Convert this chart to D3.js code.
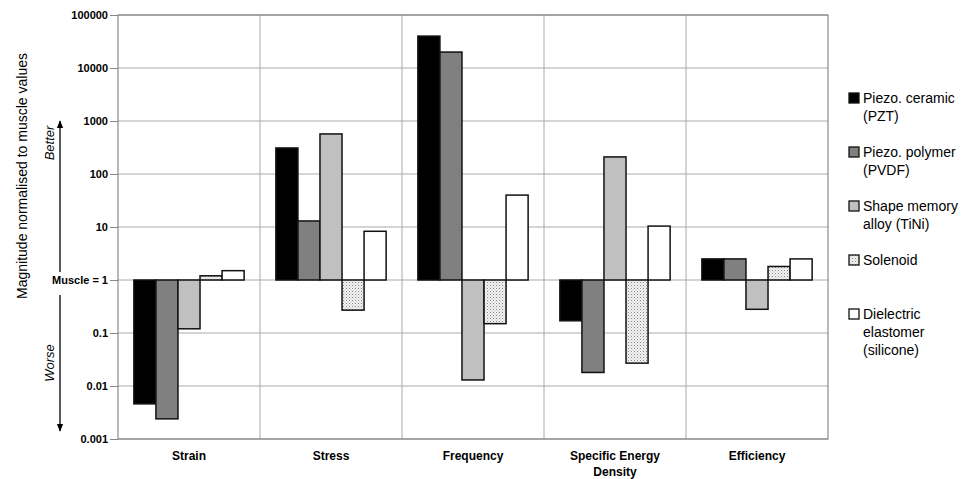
<!DOCTYPE html>
<html>
<head>
<meta charset="utf-8">
<script src="https://cdn.jsdelivr.net/npm/d3@7"></script>
<style>
  body { margin: 0; background: #fff; }
  svg { font-family: "Liberation Sans", Arial, sans-serif; }
  .axis path, .axis line { stroke: #888; }
  .grid line { stroke: #aaa; stroke-width: 1; }
</style>
</head>
<body>
<svg width="966" height="479"></svg>
<script>
var categories = ["Strain", "Stress", "Frequency", "Specific Energy|Density", "Efficiency"];
var seriesNames = ["Piezo. ceramic|(PZT)", "Piezo. polymer|(PVDF)", "Shape memory|alloy (TiNi)", "Solenoid", "Dielectric|elastomer|(silicone)"];
var pzt      = [0.0046, 310,   40000, 0.17,  2.5];
var pvdf     = [0.0024, 13,    20000, 0.018, 2.5];
var tini     = [0.12,   570,   0.013, 210,   0.28];
var solenoid = [1.2,    0.27,  0.15,  0.027, 1.8];
var silicone = [1.5,    8.3,   40,    10.4,  2.5];
var yTicks = [0.001, 0.01, 0.1, 1, 10, 100, 1000, 10000, 100000];
var yTickLabels = ["0.001", "0.01", "0.1", "Muscle = 1", "10", "100", "1000", "10000", "100000"];

var fills = ["#000000", "#808080", "#c0c0c0", "url(#dots)", "#ffffff"];
var allSeries = [pzt, pvdf, tini, solenoid, silicone];

var svg = d3.select("svg"),
    margin = {top: 15, right: 138, bottom: 40, left: 118},
    width = +svg.attr("width") - margin.left - margin.right,
    height = +svg.attr("height") - margin.top - margin.bottom,
    g = svg.append("g").attr("transform", "translate(" + margin.left + "," + margin.top + ")");

// dotted pattern for solenoid
var defs = svg.append("defs");
var pat = defs.append("pattern")
    .attr("id", "dots").attr("width", 3).attr("height", 3)
    .attr("patternUnits", "userSpaceOnUse");
pat.append("rect").attr("width", 3).attr("height", 3).attr("fill", "#f2f2f2");
pat.append("rect").attr("x", 0).attr("y", 0).attr("width", 1).attr("height", 1).attr("fill", "#888");
pat.append("rect").attr("x", 1.5).attr("y", 1.5).attr("width", 1).attr("height", 1).attr("fill", "#bbb");

var x0 = d3.scaleBand().domain(categories).range([0, width]);
var x1 = d3.scaleBand().domain(d3.range(seriesNames.length))
    .range([0, x0.bandwidth()]).paddingOuter(0.72);
var y = d3.scaleLog().domain([0.001, 100000]).range([height, 0]);

// horizontal grid
g.append("g").attr("class", "grid")
  .selectAll("line").data(yTicks).enter().append("line")
    .attr("x1", 0).attr("x2", width)
    .attr("y1", function(d) { return y(d); })
    .attr("y2", function(d) { return y(d); });

// vertical grid at category boundaries
g.append("g").attr("class", "grid")
  .selectAll("line").data(categories.slice(1)).enter().append("line")
    .attr("x1", function(d) { return x0(d); })
    .attr("x2", function(d) { return x0(d); })
    .attr("y1", 0).attr("y2", height);

// plot border
g.append("rect").attr("width", width).attr("height", height)
  .attr("fill", "none").attr("stroke", "#777").attr("stroke-width", 1);

// bars
var rows = [];
categories.forEach(function(c, ci) {
  allSeries.forEach(function(s, si) {
    rows.push({cat: c, s: si, v: s[ci]});
  });
});

g.append("g").selectAll("rect").data(rows).enter().append("rect")
    .attr("x", function(d) { return x0(d.cat) + x1(d.s); })
    .attr("width", x1.bandwidth())
    .attr("y", function(d) { return Math.min(y(d.v), y(1)); })
    .attr("height", function(d) { return Math.abs(y(d.v) - y(1)); })
    .attr("fill", function(d) { return fills[d.s]; })
    .attr("stroke", "#111")
    .attr("stroke-width", 1.5);

// y axis
var yAxis = g.append("g").attr("class", "axis")
  .call(d3.axisLeft(y).tickValues(yTicks).tickSize(8).tickPadding(2)
    .tickFormat(function(d, i) { return yTickLabels[i]; }));
yAxis.select(".domain").remove();
yAxis.selectAll("text").attr("font-size", 11).attr("font-weight", "bold")
  .attr("fill", "#000").attr("font-family", "Liberation Sans, Arial, sans-serif");

// x axis labels
var xl = g.append("g").attr("transform", "translate(0," + height + ")")
  .selectAll("text").data(categories).enter().append("text")
    .attr("x", function(d) { return x0(d) + x0.bandwidth() / 2; })
    .attr("y", 21)
    .attr("text-anchor", "middle")
    .attr("font-size", 12).attr("font-weight", "bold");
xl.each(function(d) {
  var t = d3.select(this);
  d.split("|").forEach(function(line, i) {
    t.append("tspan").attr("x", x0(d) + x0.bandwidth() / 2).attr("dy", i ? 16 : 0).text(line);
  });
});

// y axis title
svg.append("text")
  .attr("transform", "translate(27,176) rotate(-90)")
  .attr("text-anchor", "middle")
  .attr("font-size", 14)
  .text("Magnitude normalised to muscle values");

// better / worse arrows
defs.append("marker").attr("id", "arrow").attr("viewBox", "0 0 10 10")
  .attr("refX", 9).attr("refY", 5).attr("markerWidth", 6).attr("markerHeight", 8)
  .attr("orient", "auto")
  .append("path").attr("d", "M0,1 L10,5 L0,9 z").attr("fill", "#000");

var ax = 60;
svg.append("line").attr("x1", ax).attr("x2", ax)
  .attr("y1", margin.top + y(1) - 8).attr("y2", margin.top + y(1000))
  .attr("stroke", "#000").attr("stroke-width", 1.3).attr("marker-end", "url(#arrow)");
svg.append("line").attr("x1", ax).attr("x2", ax)
  .attr("y1", margin.top + y(1) + 15).attr("y2", margin.top + y(0.001) - 8)
  .attr("stroke", "#000").attr("stroke-width", 1.3).attr("marker-end", "url(#arrow)");

svg.append("text")
  .attr("transform", "translate(54,143) rotate(-90)")
  .attr("text-anchor", "middle").attr("font-size", 13).attr("font-style", "italic")
  .text("Better");
svg.append("text")
  .attr("transform", "translate(54,363) rotate(-90)")
  .attr("text-anchor", "middle").attr("font-size", 13).attr("font-style", "italic")
  .text("Worse");

// legend
var legend = svg.append("g").attr("transform", "translate(849,93)");
var item = legend.selectAll("g").data(seriesNames).enter().append("g")
  .attr("transform", function(d, i) { return "translate(0," + (i * 54) + ")"; });
item.append("rect").attr("width", 10).attr("height", 10)
  .attr("fill", function(d, i) { return fills[i]; })
  .attr("stroke", "#111").attr("stroke-width", 1.3);
item.append("text").attr("x", 14).attr("y", 10).attr("font-size", 14)
  .each(function(d) {
    var t = d3.select(this);
    d.split("|").forEach(function(line, i) {
      t.append("tspan").attr("x", 14).attr("dy", i ? 18 : 0).text(line);
    });
  });
</script>
</body>
</html>
